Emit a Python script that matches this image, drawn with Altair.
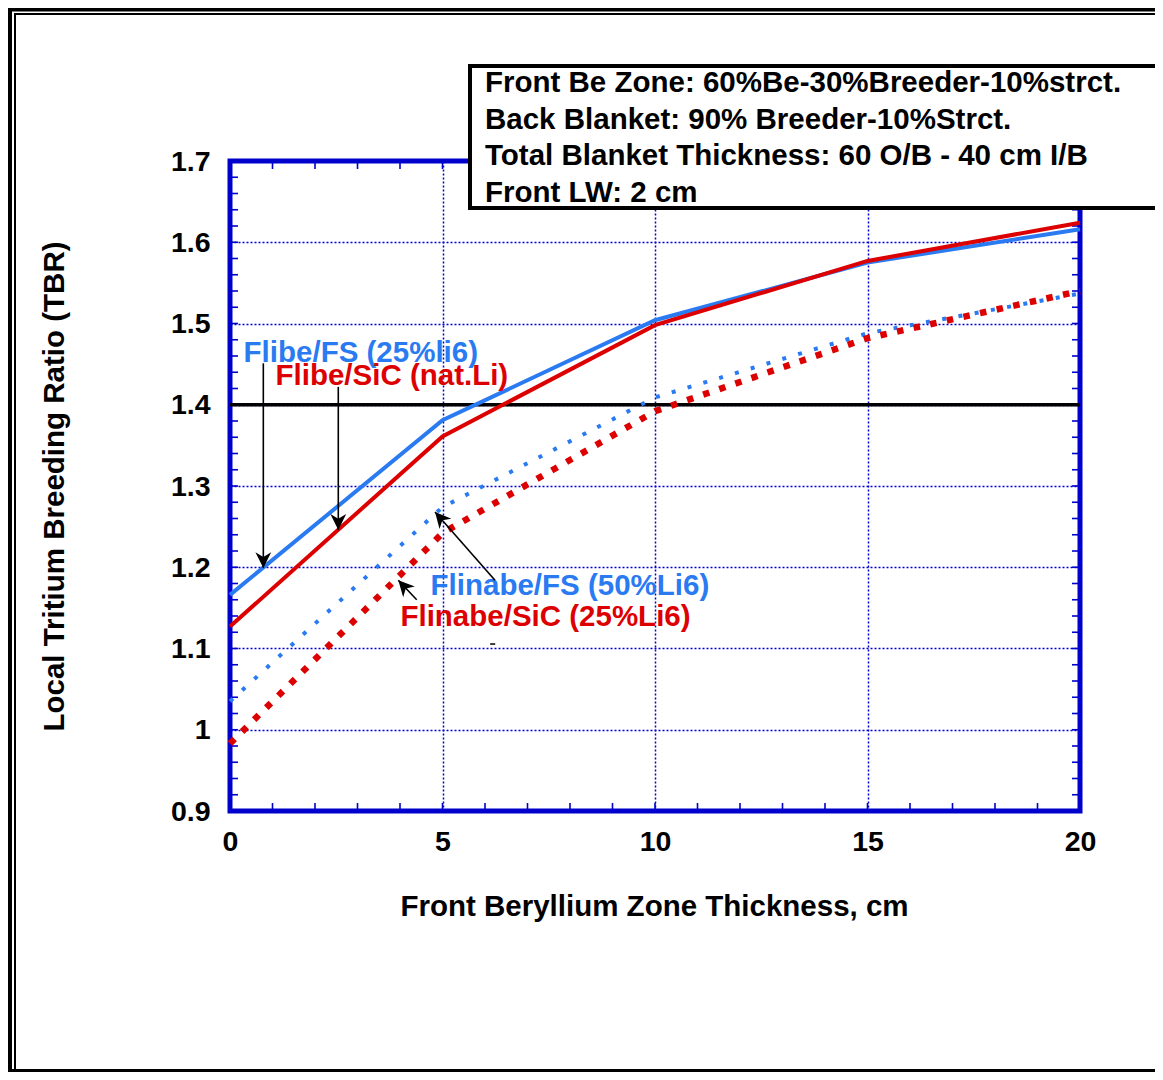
import altair as alt
import pandas as pd

# ---------------- data ----------------
thickness = [0, 5, 10, 15, 20]
flibe_fs = [1.166, 1.381, 1.504, 1.575, 1.616]      # Flibe/FS (25%li6), solid blue
flibe_sic = [1.127, 1.361, 1.498, 1.577, 1.624]     # Flibe/SiC (nat.Li), solid red
flinabe_fs = [1.035, 1.274, 1.409, 1.488, 1.537]    # Flinabe/FS (50%Li6), dotted blue
flinabe_sic = [0.983, 1.242, 1.392, 1.482, 1.540]   # Flinabe/SiC (25%Li6), dotted red
target_tbr = [1.4]

x_ticks = [0, 5, 10, 15, 20]
y_ticks = [0.9, 1.0, 1.1, 1.2, 1.3, 1.4, 1.5, 1.6, 1.7]
x_minor = [i for i in range(1, 20)]
y_minor = [round(0.9 + 0.02 * i, 2) for i in range(1, 40)]

box_lines = [
    "Front Be Zone: 60%Be-30%Breeder-10%strct.",
    "Back Blanket: 90% Breeder-10%Strct.",
    "Total Blanket Thickness: 60 O/B - 40 cm I/B",
    "Front LW: 2 cm",
]

label_texts = ["Flibe/FS (25%li6)", "Flibe/SiC (nat.Li)",
               "Flinabe/FS (50%Li6)", "Flinabe/SiC (25%Li6)"]
label_x = [0.32, 1.07, 4.72, 4.01]
label_y = [1.453, 1.424, 1.166, 1.128]

arrow_tail_x = [0.784, 2.548, 6.235, 4.393]
arrow_tail_y = [1.451, 1.422, 1.184, 1.160]
arrow_tip_x = [0.784, 2.548, 4.824, 3.960]
arrow_tip_y = [1.199, 1.246, 1.268, 1.184]
arrow_angle = [0, 0, 138.6, 137.4]

# ---------------- styles ----------------
BLUE = "#2a7af2"
RED = "#dd0000"
FRAME = "#0000cd"
FONT = "Liberation Sans, Arial, Helvetica, sans-serif"
FS_TEXT = 29.5
FS_TICK = 28.5
W, H = 850, 650
PAD = {"left": 222, "top": 153, "right": 75, "bottom": 261}

xs = alt.Scale(domain=[0, 20], nice=False, zero=False)
ys = alt.Scale(domain=[0.9, 1.7], nice=False, zero=False)

xaxis = alt.Axis(
    values=x_ticks, title="Front Beryllium Zone Thickness, cm",
    grid=True, gridColor=FRAME, gridDash=[2, 2], gridWidth=1.5,
    ticks=False, tickSize=0, domain=False,
    labelFont=FONT, labelFontSize=FS_TICK, labelFontWeight="bold", labelColor="black",
    labelPadding=39, labelBaseline="alphabetic", labelFlush=False,
    titleFont=FONT, titleFontSize=FS_TEXT, titleFontWeight="bold", titleColor="black",
    titleX=424, titleY=104, titleBaseline="alphabetic", titleAlign="center",
)
yaxis = alt.Axis(
    values=y_ticks, format="~g", title="Local Tritium Breeding Ratio (TBR)",
    grid=True, gridColor=FRAME, gridDash=[2, 2], gridWidth=1.5,
    ticks=False, tickSize=0, domain=False,
    labelFont=FONT, labelFontSize=FS_TICK, labelFontWeight="bold", labelColor="black",
    labelPadding=20, labelBaseline="middle", labelFlush=False,
    titleFont=FONT, titleFontSize=FS_TEXT, titleFontWeight="bold", titleColor="black",
    titleX=-167, titleY=325, titleAngle=270, titleBaseline="alphabetic", titleAlign="center",
)

X = alt.X("x:Q", scale=xs, axis=xaxis)
Y = alt.Y("y:Q", scale=ys, axis=yaxis)

one = pd.DataFrame({"k": [0]})


def series_df(vals):
    return pd.DataFrame({"x": thickness, "y": vals})


layers = []

# minor ticks (inward, all four sides)
xm = pd.DataFrame({"x": x_minor})
ym = pd.DataFrame({"y": y_minor})
layers.append(alt.Chart(xm).mark_rule(color=FRAME, strokeWidth=1.6).encode(
    x=X, y=alt.value(H), y2=alt.value(H - 8)))
layers.append(alt.Chart(xm).mark_rule(color=FRAME, strokeWidth=1.6).encode(
    x=X, y=alt.value(0), y2=alt.value(8)))
layers.append(alt.Chart(ym).mark_rule(color=FRAME, strokeWidth=1.6).encode(
    y=Y, x=alt.value(0), x2=alt.value(8)))
layers.append(alt.Chart(ym).mark_rule(color=FRAME, strokeWidth=1.6).encode(
    y=Y, x=alt.value(W), x2=alt.value(W - 8)))

# TBR = 1.4 reference line
layers.append(alt.Chart(pd.DataFrame({"x": [0], "x2": [20], "y": target_tbr}))
              .mark_rule(color="black", strokeWidth=3.5)
              .encode(x=X, x2="x2:Q", y=Y))

# data lines
layers.append(alt.Chart(series_df(flinabe_fs)).mark_line(
    color=BLUE, strokeWidth=4, strokeDash=[4, 12.5], strokeCap="butt").encode(x=X, y=Y))
layers.append(alt.Chart(series_df(flinabe_sic)).mark_line(
    color=RED, strokeWidth=6.5, strokeDash=[6.5, 10.5], strokeCap="butt").encode(x=X, y=Y))
layers.append(alt.Chart(series_df(flibe_fs)).mark_line(
    color=BLUE, strokeWidth=4).encode(x=X, y=Y))
layers.append(alt.Chart(series_df(flibe_sic)).mark_line(
    color=RED, strokeWidth=4).encode(x=X, y=Y))

# annotation labels
lab = pd.DataFrame({"x": label_x, "y": label_y, "t": label_texts,
                    "c": [BLUE, RED, BLUE, RED]})
layers.append(alt.Chart(lab).mark_text(
    align="left", baseline="alphabetic", font=FONT, fontSize=FS_TEXT, fontWeight="bold"
).encode(x=X, y=Y, text="t:N", color=alt.Color("c:N", scale=None)))

# arrows
arr = pd.DataFrame({"x": arrow_tail_x, "y": arrow_tail_y,
                    "x2": arrow_tip_x, "y2": arrow_tip_y})
layers.append(alt.Chart(arr).mark_rule(color="black", strokeWidth=1.6).encode(
    x=X, y=Y, x2="x2:Q", y2="y2:Q"))
heads = pd.DataFrame({"x": arrow_tip_x, "y": arrow_tip_y, "a": arrow_angle})
ARROW = "M0,0 L-0.5,-1 L0,-0.7 L0.5,-1 Z"
layers.append(alt.Chart(heads).mark_point(
    shape=ARROW, filled=True, color="black", size=1000, opacity=1, strokeWidth=0
).encode(x=X, y=Y, angle=alt.Angle("a:Q", scale=None)))

# tiny stray mark near the lower labels
layers.append(alt.Chart(pd.DataFrame({"x": [6.12], "x2": [6.24], "y": [1.1055]}))
              .mark_rule(color="black", strokeWidth=1.5).encode(x=X, x2="x2:Q", y=Y))

# info box
layers.append(alt.Chart(one).mark_rect(fill="white", stroke="black", strokeWidth=4).encode(
    x=alt.value(240), x2=alt.value(940), y=alt.value(-95), y2=alt.value(47)))
for i, line in enumerate(box_lines):
    layers.append(alt.Chart(one).mark_text(
        align="left", baseline="alphabetic", font=FONT, fontSize=FS_TEXT, fontWeight="bold",
        color="black").encode(x=alt.value(255), y=alt.value(-69 + i * 36.7),
                              text=alt.value(line)))

# outer page frame
L, T = -PAD["left"], -PAD["top"]
R = W + PAD["right"]
B = H + PAD["bottom"]
layers.append(alt.Chart(one).mark_rule(color="black", strokeWidth=4).encode(
    x=alt.value(L + 2), y=alt.value(T), y2=alt.value(B)))
layers.append(alt.Chart(one).mark_rule(color="black", strokeWidth=2).encode(
    x=alt.value(L + 7), y=alt.value(T + 6), y2=alt.value(B)))
layers.append(alt.Chart(one).mark_rule(color="black", strokeWidth=3.5).encode(
    y=alt.value(T + 1.75), x=alt.value(L), x2=alt.value(R)))
layers.append(alt.Chart(one).mark_rule(color="black", strokeWidth=2).encode(
    y=alt.value(T + 6), x=alt.value(L + 6), x2=alt.value(R)))
layers.append(alt.Chart(one).mark_rule(color="black", strokeWidth=3).encode(
    y=alt.value(B - 1.5), x=alt.value(L), x2=alt.value(R)))

chart = alt.layer(*layers).properties(
    width=W, height=H, padding=PAD,
    autosize=alt.AutoSizeParams(type="none"), background="white",
).configure_view(stroke=FRAME, strokeWidth=5)

chart.save("out.html", embed_options={"renderer": "svg", "actions": False})
